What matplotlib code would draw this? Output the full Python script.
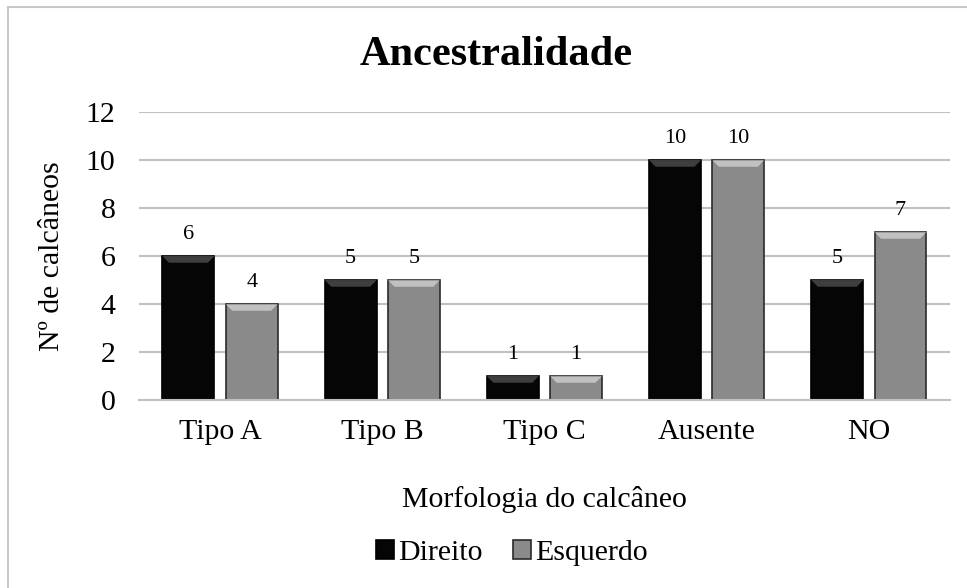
import numpy as np
import matplotlib
matplotlib.use('Agg')
import matplotlib.pyplot as plt
from matplotlib.patches import Rectangle, Polygon

categorias = ['Tipo A', 'Tipo B', 'Tipo C', 'Ausente', 'NO']
direito = [6, 5, 1, 10, 5]
esquerdo = [4, 5, 1, 10, 7]
series = ['Direito', 'Esquerdo']

plt.rcParams['font.family'] = ['Liberation Serif', 'DejaVu Serif']

fig = plt.figure(figsize=(9.67, 5.88), dpi=100)
ax = fig.add_axes([0.1437, 0.3197, 0.8387, 0.4898])

# moldura externa (so aparecem os lados esquerdo e superior)
fig.patches.append(Rectangle((0.008, -0.05), 1.2, 1.038, transform=fig.transFigure,
                             fill=False, edgecolor='#c8c8c8', linewidth=1.5))

x = np.arange(len(categorias))
w = 0.32
off = 0.195

def bevel(ax, bars, light):
    # faixa clara no topo para imitar o efeito chanfrado do Excel
    for b in bars:
        x0, y0 = b.get_x(), b.get_y()
        bw, bh = b.get_width(), b.get_height()
        d = 0.04
        dy = 0.28
        pts = [(x0, y0 + bh), (x0 + bw, y0 + bh), (x0 + bw - d, y0 + bh - dy), (x0 + d, y0 + bh - dy)]
        ax.add_patch(Polygon(pts, closed=True, facecolor=light, edgecolor='none', alpha=0.55, zorder=3))

b1 = ax.bar(x - off, direito, w, color='#050505', edgecolor='#000000', linewidth=1.2, zorder=2)
b2 = ax.bar(x + off, esquerdo, w, color='#8a8a8a', edgecolor='#2a2a2a', linewidth=1.2, zorder=2)
bevel(ax, b1, '#6e6e6e')
bevel(ax, b2, '#f0f0f0')

for bars, vals in [(b1, direito), (b2, esquerdo)]:
    for b, v in zip(bars, vals):
        ax.text(b.get_x() + b.get_width() / 2, v + 0.5, str(v), ha='center', va='bottom', fontsize=16)

ax.set_xlim(-0.5, len(categorias) - 0.5)
ax.set_ylim(0, 12)
ax.set_yticks(range(0, 13, 2))
ax.set_xticks(x)
ax.set_xticklabels(categorias)
ax.tick_params(axis='both', length=0, labelsize=21.5)
ax.tick_params(axis='x', pad=14)
ax.tick_params(axis='y', pad=17)
ax.yaxis.grid(True, color='#c0c0c0', linewidth=1.5, zorder=0)
ax.set_axisbelow(True)
for s in ['top', 'right', 'left']:
    ax.spines[s].set_visible(False)
ax.spines['bottom'].set_color('#c0c0c0')
ax.spines['bottom'].set_linewidth(1.5)

ax.set_ylabel('Nº de calcâneos', fontsize=21.5, labelpad=15)
ax.set_xlabel('Morfologia do calcâneo', fontsize=21.5, labelpad=29)
fig.text(0.513, 0.906, 'Ancestralidade', ha='center', va='center', fontsize=30.5, fontweight='bold')

leg = ax.legend([b1, b2], series, loc='center', bbox_to_anchor=(0.46, -0.53), ncol=2,
                frameon=False, fontsize=21.5, handlelength=0.6, handleheight=0.6,
                handletextpad=0.15, columnspacing=1.0)

fig.savefig('out.png', dpi=100)
